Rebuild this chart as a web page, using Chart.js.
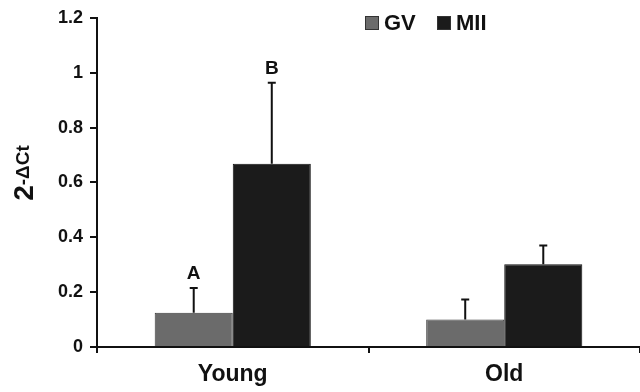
<!DOCTYPE html>
<html lang="en">
<head>
    <meta charset="UTF-8">
    <title>2-ΔCt GV / MII</title>
    <script src="https://cdn.jsdelivr.net/npm/chart.js"></script>
    <style>
        html, body { margin: 0; padding: 0; background: #fff; overflow: hidden; }
    </style>
</head>
<body>

    <canvas id="ctChart" width="640" height="392"></canvas>

    <script>
        const groups = ['Young', 'Old'];
        const gvValues = [0.125, 0.10];
        const gvErrors = [0.09, 0.073];
        const miiValues = [0.668, 0.302];
        const miiErrors = [0.295, 0.068];
        const gvLetters = ['A', ''];
        const miiLetters = ['B', ''];
        const yTicks = [0, 0.2, 0.4, 0.6, 0.8, 1, 1.2];

        const FONT = 'Liberation Sans, Arial, sans-serif';

        // error bars + letters on top of each bar
        const errorBars = {
            id: 'errorBars',
            afterDatasetsDraw(chart) {
                const ctx = chart.ctx;
                const y = chart.scales.y;
                const errs = [gvErrors, miiErrors];
                const letters = [gvLetters, miiLetters];
                ctx.save();
                ctx.strokeStyle = '#111';
                ctx.lineWidth = 2;
                chart.data.datasets.forEach((ds, di) => {
                    chart.getDatasetMeta(di).data.forEach((bar, i) => {
                        const top = y.getPixelForValue(ds.data[i] + errs[di][i]);
                        ctx.beginPath();
                        ctx.moveTo(bar.x, bar.y);
                        ctx.lineTo(bar.x, top);
                        ctx.moveTo(bar.x - 4, top);
                        ctx.lineTo(bar.x + 4, top);
                        ctx.stroke();
                        if (letters[di][i]) {
                            ctx.fillStyle = '#111';
                            ctx.font = 'bold 19px ' + FONT;
                            ctx.textAlign = 'center';
                            ctx.textBaseline = 'bottom';
                            ctx.fillText(letters[di][i], bar.x, top - 5);
                        }
                    });
                });
                ctx.restore();
            }
        };

        // y title with superscript, and the small legend at top
        const extras = {
            id: 'extras',
            afterDraw(chart) {
                const ctx = chart.ctx;
                ctx.save();
                ctx.fillStyle = '#111';
                ctx.translate(33, 173);
                ctx.rotate(-Math.PI / 2);
                ctx.textBaseline = 'alphabetic';
                ctx.textAlign = 'left';
                ctx.font = 'bold 28px ' + FONT;
                const w2 = ctx.measureText('2').width;
                ctx.font = 'bold 19px ' + FONT;
                const ws = ctx.measureText('-ΔCt').width;
                const x0 = -(w2 + ws) / 2;
                ctx.font = 'bold 28px ' + FONT;
                ctx.fillText('2', x0, 0);
                ctx.font = 'bold 19px ' + FONT;
                ctx.fillText('-ΔCt', x0 + w2, -4);
                ctx.restore();

                const items = [
                    { label: 'GV', color: '#6b6b6b', x: 365 },
                    { label: 'MII', color: '#1b1b1b', x: 437 }
                ];
                ctx.save();
                ctx.font = 'bold 22px ' + FONT;
                ctx.textBaseline = 'middle';
                ctx.textAlign = 'left';
                items.forEach(it => {
                    ctx.fillStyle = it.color;
                    ctx.strokeStyle = '#333';
                    ctx.lineWidth = 1;
                    ctx.fillRect(it.x, 16, 14, 14);
                    ctx.strokeRect(it.x + 0.5, 16.5, 13, 13);
                    ctx.fillStyle = '#111';
                    ctx.fillText(it.label, it.x + 19, 24);
                });
                ctx.restore();
            }
        };

        new Chart(document.getElementById('ctChart'), {
            type: 'bar',
            data: {
                labels: groups,
                datasets: [
                    { label: 'GV', data: gvValues, backgroundColor: '#6b6b6b', borderColor: '#3a3a3a', borderWidth: 1 },
                    { label: 'MII', data: miiValues, backgroundColor: '#1b1b1b', borderColor: '#111', borderWidth: 1 }
                ]
            },
            options: {
                responsive: false,
                animation: false,
                layout: { padding: { left: 0, right: 0, top: 13, bottom: 0 } },
                categoryPercentage: 0.575,
                barPercentage: 1.0,
                plugins: { legend: { display: false }, tooltip: { enabled: false } },
                scales: {
                    x: {
                        offset: true,
                        afterFit: s => { s.height = 45; },
                        border: { color: '#111', width: 2 },
                        grid: { offset: true, drawOnChartArea: false, drawTicks: true, tickLength: 6, color: '#111', lineWidth: 2 },
                        ticks: { color: '#111', padding: 8, font: { family: FONT, size: 23, weight: 'bold' } }
                    },
                    y: {
                        min: 0,
                        max: 1.2,
                        afterFit: s => { s.width = 97; },
                        afterBuildTicks: s => { s.ticks = yTicks.map(v => ({ value: v })); },
                        border: { color: '#111', width: 2 },
                        grid: { drawOnChartArea: false, drawTicks: true, tickLength: 7, color: '#111', lineWidth: 2 },
                        ticks: {
                            color: '#111',
                            padding: 7,
                            font: { family: FONT, size: 18, weight: 'bold' },
                            callback: v => String(+v.toFixed(1))
                        }
                    }
                }
            },
            plugins: [errorBars, extras]
        });
    </script>
</body>
</html>
